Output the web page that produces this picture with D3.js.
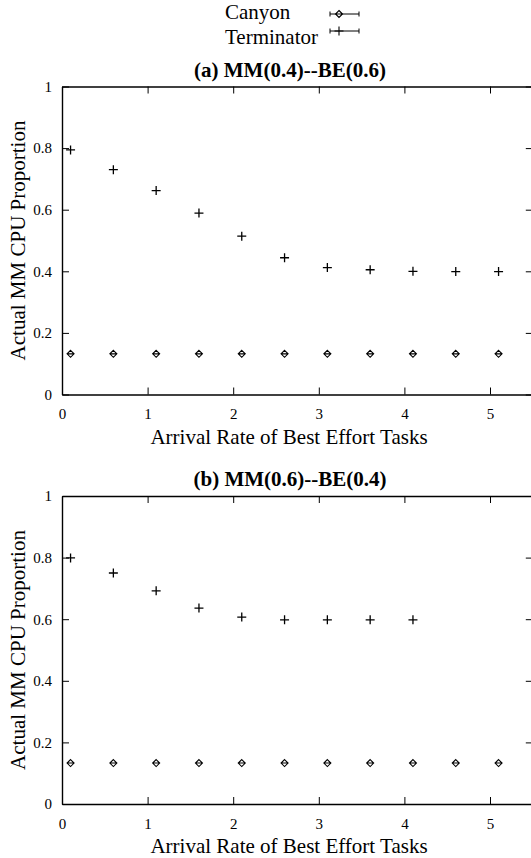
<!DOCTYPE html>
<html>
<head>
<meta charset="utf-8">
<script src="https://cdn.jsdelivr.net/npm/d3@7"></script>
</head>
<body style="margin:0">
<script>
// data
var arrivalRates = [0.1, 0.6, 1.1, 1.6, 2.1, 2.6, 3.1, 3.6, 4.1, 4.6, 5.1]
var seriesNames = ["Canyon", "Terminator"]
var panelTitles = ["(a) MM(0.4)--BE(0.6)", "(b) MM(0.6)--BE(0.4)"]
var canyonA = [0.132, 0.132, 0.132, 0.132, 0.132, 0.132, 0.132, 0.132, 0.132, 0.132, 0.132]
var terminatorA = [0.794, 0.730, 0.662, 0.589, 0.514, 0.444, 0.412, 0.405, 0.400, 0.399, 0.399]
var canyonB = [0.133, 0.133, 0.133, 0.133, 0.133, 0.133, 0.133, 0.133, 0.133, 0.133, 0.133]
var terminatorB = [0.799, 0.750, 0.692, 0.636, 0.607, 0.598, 0.598, 0.598, 0.598]
var xTicks = [0, 1, 2, 3, 4, 5]
var yTicks = [0, 0.2, 0.4, 0.6, 0.8, 1]
var xLabel = "Arrival Rate of Best Effort Tasks"
var yLabel = "Actual MM CPU Proportion"

var W = 531, H = 858
var left = 62, plotW = 470.8, plotH = 308
var fontFam = '"Liberation Serif", monospace'

var svg = d3.select("body")
  .append("svg")
    .attr("width", W)
    .attr("height", H)
    .style("font-family", fontFam)

var plusPath = "M-4.5,0H4.5M0,-4.5V4.5"
var diamondPath = "M0,-3.5L3.5,0L0,3.5L-3.5,0Z M-3.5,0H3.5"

// legend
var legendRows = [{ty: 19, sy: 14, path: diamondPath}, {ty: 44, sy: 31, path: plusPath}]
seriesNames.forEach(function (name, i) {
  var r = legendRows[i]
  svg.append("text")
    .attr("x", 225).attr("y", r.ty)
    .attr("font-size", 21)
    .style("font-family", fontFam)
    .text(name)
  svg.append("path")
    .attr("d", "M330," + r.sy + "H359M330," + (r.sy - 2.5) + "V" + (r.sy + 2.5) +
               "M359," + (r.sy - 2.5) + "V" + (r.sy + 2.5))
    .attr("stroke", "#000").attr("stroke-width", 1).attr("fill", "none")
  svg.append("path")
    .attr("transform", "translate(339," + r.sy + ")")
    .attr("d", r.path)
    .attr("stroke", "#000").attr("stroke-width", 1.1).attr("fill", "#fff")
})

function panel (top, title, canyon, terminator) {
  var x = d3.scaleLinear().domain([0, 5.5]).range([left, left + plotW])
  var y = d3.scaleLinear().domain([0, 1]).range([top + plotH, top])

  svg.append("text")
    .attr("x", 290).attr("y", top - 10)
    .attr("text-anchor", "middle")
    .attr("font-size", 21)
    .attr("font-weight", "bold")
    .style("font-family", fontFam)
    .text(title)

  // bottom axis with labels
  svg.append("g")
    .attr("transform", "translate(0," + y(0) + ")")
    .call(d3.axisBottom(x).tickValues(xTicks).tickSizeInner(-7).tickSizeOuter(0)
      .tickPadding(14).tickFormat(d3.format("d")))
  // top axis
  svg.append("g")
    .attr("transform", "translate(0," + y(1) + ")")
    .call(d3.axisTop(x).tickValues(xTicks).tickSizeInner(-7).tickSizeOuter(0).tickFormat(""))
  // left axis with labels
  svg.append("g")
    .attr("transform", "translate(" + x(0) + ",0)")
    .call(d3.axisLeft(y).tickValues(yTicks).tickSizeInner(-7).tickSizeOuter(0)
      .tickPadding(10).tickFormat(function (d) { return String(+d.toFixed(1)) }))
  // right axis
  svg.append("g")
    .attr("transform", "translate(" + x(5.5) + ",0)")
    .call(d3.axisRight(y).tickValues(yTicks).tickSizeInner(-7).tickSizeOuter(0).tickFormat(""))

  svg.selectAll(".domain").attr("stroke", "#000").attr("stroke-width", 1.4)
  svg.selectAll(".tick line").attr("stroke", "#000").attr("stroke-width", 1)
  svg.selectAll(".tick text")
    .attr("font-size", 15)
    .style("font-family", fontFam)

  // axis titles
  svg.append("text")
    .attr("x", 289).attr("y", y(0) + 49)
    .attr("text-anchor", "middle")
    .attr("font-size", 21)
    .style("font-family", fontFam)
    .text(xLabel)
  svg.append("text")
    .attr("transform", "translate(25," + (top + plotH / 2) + ") rotate(-90)")
    .attr("text-anchor", "middle")
    .attr("font-size", 21)
    .style("font-family", fontFam)
    .text(yLabel)

  // points
  svg.append("g")
    .selectAll("path")
    .data(terminator)
    .enter()
    .append("path")
      .attr("transform", function (d, i) { return "translate(" + x(arrivalRates[i]) + "," + y(d) + ")" })
      .attr("d", plusPath)
      .attr("stroke", "#000").attr("stroke-width", 1.3).attr("fill", "none")

  svg.append("g")
    .selectAll("path")
    .data(canyon)
    .enter()
    .append("path")
      .attr("transform", function (d, i) { return "translate(" + x(arrivalRates[i]) + "," + y(d) + ")" })
      .attr("d", diamondPath)
      .attr("stroke", "#000").attr("stroke-width", 1.1).attr("fill", "none")
}

panel(86.5, panelTitles[0], canyonA, terminatorA)
panel(496, panelTitles[1], canyonB, terminatorB)
</script>
</body>
</html>
